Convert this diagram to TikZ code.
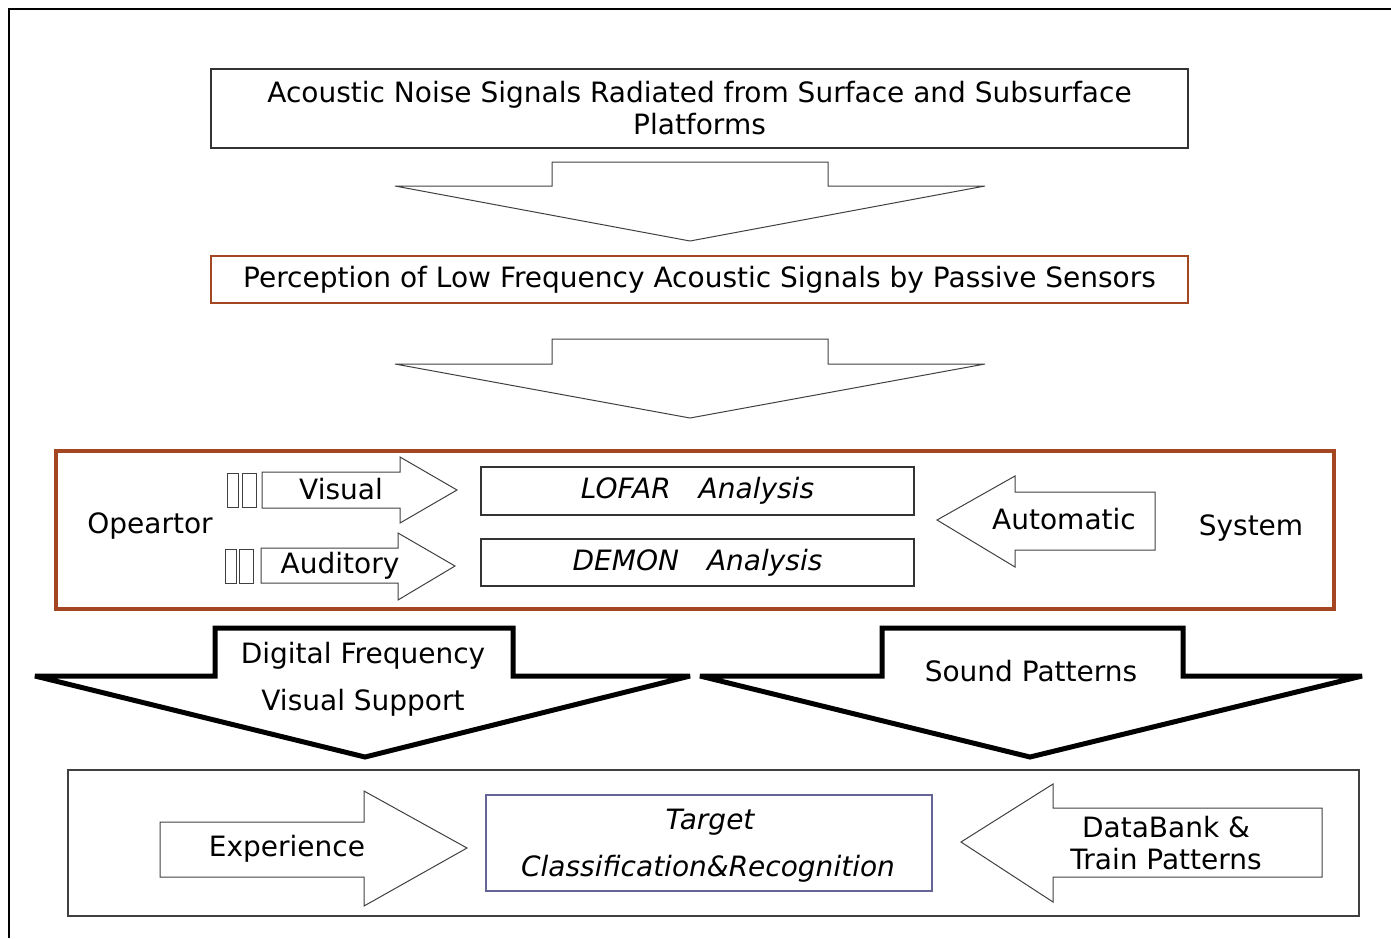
\documentclass[tikz,border=0pt]{standalone}
\usepackage{fontspec}
\setmainfont{DejaVu Sans}
\definecolor{brownb}{RGB}{165,70,35}
\definecolor{slateb}{RGB}{100,100,150}
\begin{document}
\begin{tikzpicture}[x=0.5pt,y=-0.5pt,
  txt/.style={font=\fontsize{14}{16}\selectfont, inner sep=0pt, align=center},
  itxt/.style={font=\fontsize{14}{16}\selectfont\itshape, inner sep=0pt, align=center},
  box/.style={draw=black!80, line width=0.8pt, inner sep=0pt, align=center, font=\fontsize{14}{16}\selectfont},
  thinarrow/.style={draw=black!75, line width=0.5pt, line join=miter},
  bigarrow/.style={draw=black, line width=2.5pt, line join=miter, miter limit=4},
]
\useasboundingbox (0,0) rectangle (1391,938);
\draw[line width=1pt] (9,938) -- (9,9) -- (1391,9);

% top boxes
\node[box, minimum width=488.5pt, minimum height=39.5pt] (src) at (699.5,108.5)
  {Acoustic Noise Signals Radiated from Surface and Subsurface\\Platforms};
\draw[thinarrow] (395,186) -- (552,186) -- (552,162) -- (828,162) -- (828,186) -- (985,186) -- (690,241) -- cycle;
\node[box, draw=brownb, minimum width=488.5pt, minimum height=23.5pt] (perc) at (699.5,279.5)
  {Perception of Low Frequency Acoustic Signals by Passive Sensors};
\draw[thinarrow] (395,364) -- (552,364) -- (552,339) -- (828,339) -- (828,364) -- (985,364) -- (690,418) -- cycle;

% middle box
\node[draw=brownb, line width=1.6pt, minimum width=639pt, minimum height=79pt] (mid) at (695,530) {};
\node[txt] (op) at (150,526) {Opeartor};
\node[txt] (sys) at (1251,528) {System};
\node[box, minimum width=216.5pt, minimum height=24pt, font=\fontsize{14}{16}\selectfont\itshape] (lofar) at (697.5,491) {LOFAR\quad Analysis};
\node[box, minimum width=216.5pt, minimum height=23.5pt, font=\fontsize{14}{16}\selectfont\itshape] (demon) at (697.5,562.5) {DEMON\quad Analysis};

\draw[thinarrow] (227,473) rectangle (238,507);
\draw[thinarrow] (242,473) rectangle (256,507);
\draw[thinarrow] (262,472) -- (400,472) -- (400,457) -- (457,490) -- (400,523) -- (400,508) -- (262,508) -- cycle;
\node[txt] (vis) at (341,489) {Visual};

\draw[thinarrow] (225,549) rectangle (236,583);
\draw[thinarrow] (239,549) rectangle (253,583);
\draw[thinarrow] (261,548) -- (398,548) -- (398,533) -- (455,566) -- (398,600) -- (398,583) -- (261,583) -- cycle;
\node[txt] (aud) at (340,566) {Auditory};

\draw[thinarrow] (937,520) -- (1015,476) -- (1015,492) -- (1155,492) -- (1155,550) -- (1015,550) -- (1015,567) -- cycle;
\node[txt] (auto) at (1064,519) {Automatic};

% big arrows
\draw[bigarrow] (35,676) -- (215,676) -- (215,628) -- (513,628) -- (513,676) -- (690,676) -- (365,757) -- cycle;
\node[txt] (dig) at (363,656) {Digital Frequency};
\node[txt] (vsup) at (363,703) {Visual Support};
\draw[bigarrow] (700,676) -- (882,676) -- (882,628) -- (1183,628) -- (1183,676) -- (1362,676) -- (1030,757) -- cycle;
\node[txt] (snd) at (1031,671) {Sound Patterns};

% bottom box
\node[draw=black!75, line width=1pt, minimum width=645.5pt, minimum height=73pt] (bot) at (713.5,843) {};
\node[draw=slateb, line width=1.3pt, minimum width=223pt, minimum height=48pt, inner sep=0pt] (tgt) at (709,843) {};
\node[itxt] (tgt1) at (710,822) {Target};
\node[itxt] (tgt2) at (708,869) {Classification\&Recognition};
\draw[thinarrow] (160,822) -- (364,822) -- (364,791) -- (467,848) -- (364,906) -- (364,877) -- (160,877) -- cycle;
\node[txt] (exp) at (287,849) {Experience};
\draw[thinarrow] (961,842) -- (1053,784) -- (1053,808) -- (1322,808) -- (1322,877) -- (1053,877) -- (1053,902) -- cycle;
\node[txt, align=center] (db) at (1166,843) {DataBank \&\\[0pt]Train Patterns};
\end{tikzpicture}
\end{document}
